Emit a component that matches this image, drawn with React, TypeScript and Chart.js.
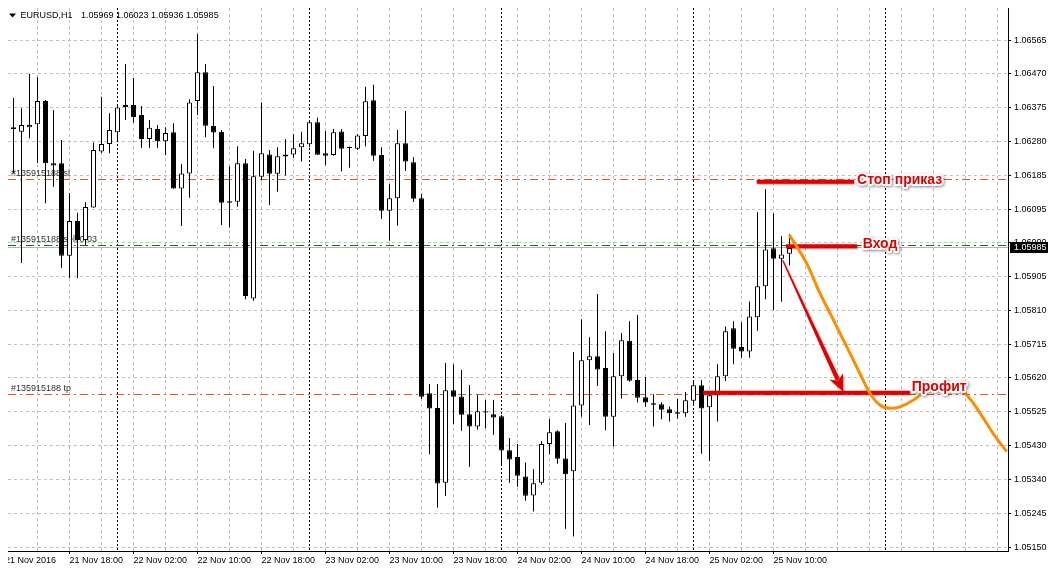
import React, { useEffect, useRef } from 'react';
import { Chart, registerables } from 'chart.js';

Chart.register(...registerables);

// ---------- data ----------
const symbolTitle = 'EURUSD,H1';
const headerPrices = '1.05969 1.06023 1.05936 1.05985';
const firstDateLabel = '21 Nov 2016';

const candleOpen = [
  1.06322, 1.06309, 1.06322, 1.06330, 1.06395, 1.06221, 1.06221, 1.05963, 1.06060, 1.06007,
  1.06098, 1.06254, 1.06275, 1.06308, 1.06378, 1.06384, 1.06356, 1.06289, 1.06317, 1.06283,
  1.06308, 1.06151, 1.06193, 1.06395, 1.06475, 1.06325, 1.06309, 1.06115, 1.06114, 1.06221,
  1.05844, 1.06184, 1.06246, 1.06192, 1.06240, 1.06246, 1.06266, 1.06274, 1.06336, 1.06249,
  1.06244, 1.06310, 1.06264, 1.06262, 1.06297, 1.06397, 1.06244, 1.06089, 1.06124, 1.06277,
  1.06224, 1.06124, 1.05580, 1.05539, 1.05330, 1.05588, 1.05571, 1.05521, 1.05487, 1.05530,
  1.05521, 1.05516, 1.05421, 1.05402, 1.05348, 1.05295, 1.05330, 1.05438, 1.05474, 1.05398,
  1.05362, 1.05546, 1.05672, 1.05683, 1.05650, 1.05514, 1.05627, 1.05726, 1.05617, 1.05569,
  1.05552, 1.05549, 1.05535, 1.05527, 1.05524, 1.05559, 1.05602, 1.05541, 1.05574, 1.05627,
  1.05761, 1.05709, 1.05696, 1.05792, 1.05878, 1.05984, 1.05955, 1.05969,
];
const candleHigh = [
  1.06403, 1.06375, 1.06470, 1.06461, 1.06398, 1.06370, 1.06286, 1.06138, 1.06083, 1.06113,
  1.06279, 1.06407, 1.06361, 1.06381, 1.06498, 1.06459, 1.06381, 1.06342, 1.06328, 1.06322,
  1.06333, 1.06219, 1.06400, 1.06582, 1.06498, 1.06437, 1.06314, 1.06212, 1.06269, 1.06233,
  1.06256, 1.06391, 1.06258, 1.06266, 1.06288, 1.06303, 1.06309, 1.06342, 1.06348, 1.06311,
  1.06317, 1.06317, 1.06268, 1.06303, 1.06435, 1.06440, 1.06266, 1.06163, 1.06314, 1.06367,
  1.06238, 1.06136, 1.05606, 1.05606, 1.05664, 1.05661, 1.05645, 1.05603, 1.05575, 1.05561,
  1.05561, 1.05519, 1.05455, 1.05438, 1.05387, 1.05368, 1.05446, 1.05508, 1.05477, 1.05497,
  1.05695, 1.05786, 1.05736, 1.05857, 1.05753, 1.05692, 1.05748, 1.05781, 1.05798, 1.05625,
  1.05577, 1.05555, 1.05543, 1.05564, 1.05583, 1.05617, 1.05617, 1.05581, 1.05661, 1.05766,
  1.05781, 1.05778, 1.05836, 1.06085, 1.06149, 1.06082, 1.06018, 1.06023,
];
const candleLow = [
  1.06194, 1.05943, 1.06291, 1.06222, 1.06110, 1.06156, 1.05929, 1.05901, 1.05901, 1.05993,
  1.06097, 1.06250, 1.06249, 1.06286, 1.06342, 1.06334, 1.06264, 1.06264, 1.06264, 1.06244,
  1.06150, 1.06046, 1.06125, 1.06356, 1.06294, 1.06263, 1.06049, 1.06042, 1.06100, 1.05842,
  1.05838, 1.06173, 1.06105, 1.06142, 1.06187, 1.06237, 1.06226, 1.06266, 1.06244, 1.06216,
  1.06242, 1.06198, 1.06209, 1.06258, 1.06269, 1.06228, 1.06066, 1.06005, 1.06047, 1.06200,
  1.06113, 1.05564, 1.05410, 1.05261, 1.05293, 1.05494, 1.05475, 1.05375, 1.05479, 1.05482,
  1.05464, 1.05378, 1.05330, 1.05319, 1.05280, 1.05250, 1.05325, 1.05410, 1.05383, 1.05202,
  1.05180, 1.05514, 1.05491, 1.05600, 1.05477, 1.05431, 1.05565, 1.05612, 1.05554, 1.05542,
  1.05487, 1.05507, 1.05501, 1.05509, 1.05514, 1.05544, 1.05411, 1.05391, 1.05501, 1.05614,
  1.05661, 1.05679, 1.05679, 1.05754, 1.05842, 1.05812, 1.05835, 1.05936,
];
const candleClose = [
  1.06317, 1.06328, 1.06328, 1.06395, 1.06221, 1.06215, 1.05963, 1.06060, 1.06007, 1.06099,
  1.06258, 1.06275, 1.06314, 1.06377, 1.06384, 1.06350, 1.06289, 1.06320, 1.06283, 1.06306,
  1.06151, 1.06193, 1.06391, 1.06475, 1.06326, 1.06307, 1.06111, 1.06111, 1.06221, 1.05851,
  1.06185, 1.06249, 1.06192, 1.06241, 1.06246, 1.06263, 1.06277, 1.06336, 1.06245, 1.06242,
  1.06308, 1.06262, 1.06265, 1.06299, 1.06394, 1.06242, 1.06089, 1.06124, 1.06277, 1.06226,
  1.06122, 1.05570, 1.05537, 1.05328, 1.05588, 1.05570, 1.05520, 1.05487, 1.05530, 1.05526,
  1.05512, 1.05420, 1.05395, 1.05350, 1.05294, 1.05329, 1.05438, 1.05471, 1.05397, 1.05354,
  1.05546, 1.05672, 1.05683, 1.05646, 1.05514, 1.05627, 1.05728, 1.05615, 1.05567, 1.05554,
  1.05548, 1.05534, 1.05524, 1.05523, 1.05560, 1.05602, 1.05537, 1.05574, 1.05627, 1.05753,
  1.05704, 1.05696, 1.05794, 1.05878, 1.05981, 1.05955, 1.05967, 1.05985,
];

const xTickLabels = [
  '21 Nov 18:00', '22 Nov 02:00', '22 Nov 10:00', '22 Nov 18:00', '23 Nov 02:00', '23 Nov 10:00',
  '23 Nov 18:00', '24 Nov 02:00', '24 Nov 10:00', '24 Nov 18:00', '25 Nov 02:00', '25 Nov 10:00',
];
const yTickValues = [
  1.06565, 1.06471, 1.06376, 1.06282, 1.06188, 1.06093, 1.06000, 1.05906,
  1.05811, 1.05717, 1.05623, 1.05528, 1.05434, 1.05340, 1.05245, 1.05150,
];
const yTickLabels = [
  '1.06565', '1.06470', '1.06375', '1.06280', '1.06185', '1.06095', '1.06000', '1.05905',
  '1.05810', '1.05715', '1.05620', '1.05525', '1.05430', '1.05340', '1.05245', '1.05150',
];
const daySeparators = [13, 37, 61, 85, 109];

const bidPrice = 1.05985;
const bidLabel = '1.05985';
const slPrice = 1.06177;
const entryOrderPrice = 1.05991;
const tpPrice = 1.05576;
const slLabel = '#135915188 sl';
const entryLabel = '#135915188 sell 0.03';
const tpLabel = '#135915188 tp';

const stopLineX = [92.9, 105.06];
const stopLinePrice = 1.0617;
const entryLineX = [96.56, 105.44];
const entryLinePrice = 1.0599;
const profitLineX = [86.2, 112.06];
const profitLinePrice = 1.05581;

const arrowX = [96.15, 103.72];
const arrowY = [1.05951, 1.05584];

const forecastX = [
  96.98, 97.9, 99.15, 100.8, 102.5, 104.15, 105.8, 107.06, 108.3, 109.56,
  110.8, 112.5, 113.7, 115.8, 117.7, 118.9, 119.98, 121.2, 122.5, 124.15,
];
const forecastY = [
  1.06021, 1.05989, 1.05942, 1.05859, 1.05784, 1.0571, 1.05635, 1.0558, 1.05547, 1.05538,
  1.05542, 1.05561, 1.0558, 1.05595, 1.05595, 1.05581, 1.05552, 1.05511, 1.05466, 1.05417,
];

const annotationTexts = ['Стоп приказ', 'Вход', 'Профит'];
const annotationX = [105.44, 106.15, 112.28];
const annotationY = [1.06173, 1.05995, 1.05598];

// ---------- layout / style constants ----------
const X_MIN = -0.6875;
const X_MAX = 124.3125;
const Y_MIN = 1.051399;
const Y_MAX = 1.066543;
const X_LABEL_FIRST = 7;
const X_LABEL_STEP = 8;
const X_GRID_FIRST = 3;
const X_GRID_STEP = 4;
const X_GRID_LAST = 123;

const RED = '#E10000';
const FONT = '"Liberation Sans", Arial, sans-serif';
const GRID = '#c0c0c0';

function xLabelAt(v: number): string {
  const k = (v - X_LABEL_FIRST) / X_LABEL_STEP;
  return Number.isInteger(k) && k >= 0 && k < xTickLabels.length ? xTickLabels[k] : '';
}

const xGridValues: number[] = [];
for (let v = X_GRID_FIRST; v <= X_GRID_LAST; v += X_GRID_STEP) xGridValues.push(v);

function haloText(ctx: CanvasRenderingContext2D, text: string, x: number, y: number) {
  ctx.save();
  ctx.font = `bold 14px ${FONT}`;
  ctx.textBaseline = 'middle';
  ctx.textAlign = 'left';
  ctx.lineJoin = 'round';
  ctx.shadowColor = 'rgba(0,0,0,0.45)';
  ctx.shadowBlur = 3;
  ctx.shadowOffsetX = 1;
  ctx.shadowOffsetY = 1;
  ctx.strokeStyle = '#fff';
  ctx.lineWidth = 4;
  ctx.strokeText(text, x, y);
  ctx.shadowColor = 'rgba(0,0,0,0)';
  ctx.fillStyle = RED;
  ctx.fillText(text, x, y);
  ctx.restore();
}

const overlayPlugin = {
  id: 'mt4overlay',
  beforeDatasetsDraw(chart: any) {
    const { ctx, chartArea: a, scales } = chart;
    const x = scales.x;
    const y = scales.y;
    ctx.save();
    ctx.beginPath();
    ctx.rect(a.left, a.top, a.right - a.left, a.bottom - a.top);
    ctx.clip();

    // day separators
    ctx.strokeStyle = '#000';
    ctx.lineWidth = 1;
    ctx.setLineDash([2, 2]);
    for (const d of daySeparators) {
      const px = Math.floor(x.getPixelForValue(d)) + 0.5;
      ctx.beginPath();
      ctx.moveTo(px, a.top);
      ctx.lineTo(px, a.bottom);
      ctx.stroke();
    }

    // bid line
    ctx.setLineDash([]);
    ctx.strokeStyle = '#b4b4b4';
    let py = Math.floor(y.getPixelForValue(bidPrice)) + 0.5;
    ctx.beginPath();
    ctx.moveTo(a.left, py);
    ctx.lineTo(a.right, py);
    ctx.stroke();

    // order lines
    const orderLines = [
      { p: slPrice, c: '#f0501e', t: slLabel },
      { p: entryOrderPrice, c: '#107010', t: entryLabel },
      { p: tpPrice, c: '#f0501e', t: tpLabel },
    ];
    for (const o of orderLines) {
      py = Math.floor(y.getPixelForValue(o.p)) + 0.5;
      ctx.strokeStyle = o.c;
      ctx.setLineDash([8, 4, 2, 4]);
      ctx.beginPath();
      ctx.moveTo(a.left, py);
      ctx.lineTo(a.right, py);
      ctx.stroke();
      ctx.setLineDash([]);
      ctx.font = `9px ${FONT}`;
      ctx.fillStyle = '#303030';
      ctx.textBaseline = 'bottom';
      ctx.textAlign = 'left';
      ctx.fillText(o.t, a.left + 3, py - 1);
    }
    ctx.restore();
  },
  beforeDatasetDraw(chart: any, args: any) {
    const ds = chart.data.datasets[args.index];
    if (ds && ds.shadow) {
      const ctx = chart.ctx;
      ctx.save();
      ctx.shadowColor = 'rgba(0,0,0,0.35)';
      ctx.shadowBlur = 2;
      ctx.shadowOffsetX = 1;
      ctx.shadowOffsetY = 1;
    }
  },
  afterDatasetDraw(chart: any, args: any) {
    const ds = chart.data.datasets[args.index];
    if (ds && ds.shadow) chart.ctx.restore();
  },
  afterDatasetsDraw(chart: any) {
    const { ctx, chartArea: a, scales } = chart;
    const x = scales.x;
    const y = scales.y;

    // arrow
    const ax0 = x.getPixelForValue(arrowX[0]);
    const ay0 = y.getPixelForValue(arrowY[0]);
    const ax1 = x.getPixelForValue(arrowX[1]);
    const ay1 = y.getPixelForValue(arrowY[1]);
    const dx = ax1 - ax0;
    const dy = ay1 - ay0;
    const len = Math.hypot(dx, dy);
    const ux = dx / len;
    const uy = dy / len;
    const nx = -uy;
    const ny = ux;
    const headLen = 17;
    const headHalf = 7.5;
    const bx = ax1 - ux * headLen;
    const by = ay1 - uy * headLen;
    ctx.save();
    ctx.shadowColor = 'rgba(0,0,0,0.35)';
    ctx.shadowBlur = 2;
    ctx.shadowOffsetX = 1;
    ctx.shadowOffsetY = 1;
    ctx.fillStyle = RED;
    ctx.beginPath();
    ctx.moveTo(ax0 + nx * 0.6, ay0 + ny * 0.6);
    ctx.lineTo(bx + ux * 4 + nx * 2.2, by + uy * 4 + ny * 2.2);
    ctx.lineTo(bx + ux * 4 - nx * 2.2, by + uy * 4 - ny * 2.2);
    ctx.lineTo(ax0 - nx * 0.6, ay0 - ny * 0.6);
    ctx.closePath();
    ctx.fill();
    ctx.beginPath();
    ctx.moveTo(ax1, ay1);
    ctx.lineTo(bx + nx * headHalf, by + ny * headHalf);
    ctx.lineTo(bx + ux * 5, by + uy * 5);
    ctx.lineTo(bx - nx * headHalf, by - ny * headHalf);
    ctx.closePath();
    ctx.fill();
    ctx.restore();

    // annotation texts
    for (let i = 0; i < annotationTexts.length; i++) {
      haloText(ctx, annotationTexts[i], x.getPixelForValue(annotationX[i]), y.getPixelForValue(annotationY[i]));
    }

    // header
    ctx.save();
    ctx.fillStyle = '#000';
    ctx.beginPath();
    ctx.moveTo(1, 5.5);
    ctx.lineTo(8, 5.5);
    ctx.lineTo(4.5, 9.5);
    ctx.closePath();
    ctx.fill();
    ctx.font = `9px ${FONT}`;
    ctx.textBaseline = 'middle';
    ctx.textAlign = 'left';
    ctx.fillText(symbolTitle, 12.5, 7.5);
    ctx.fillText(headerPrices, 73, 7.5);

    // first date label (partly cut by the window edge)
    ctx.fillText(firstDateLabel, -3, a.bottom + 10);

    // current price box
    const bp = y.getPixelForValue(bidPrice);
    ctx.fillStyle = '#000';
    ctx.fillRect(a.right + 2, Math.round(bp) - 6, 38, 11);
    ctx.fillStyle = '#fff';
    ctx.fillText(bidLabel, a.right + 6, Math.round(bp) - 0.5);
    ctx.restore();
  },
};

export default function App() {
  const ref = useRef<HTMLCanvasElement>(null);

  useEffect(() => {
    const canvas = ref.current;
    if (!canvas) return;
    const lineDs = (label: string, xs: number[], p: number, order: number) => ({
      type: 'line',
      label,
      data: xs.map((v) => ({ x: v, y: p })),
      borderColor: RED,
      borderWidth: 4,
      borderCapStyle: 'butt',
      pointRadius: 0,
      order,
      shadow: true,
    });
    const chart = new Chart(canvas, {
      type: 'bar',
      data: {
        datasets: [
          {
            type: 'line',
            label: 'forecast',
            data: forecastX.map((v, i) => ({ x: v, y: forecastY[i] })),
            borderColor: '#FF8C00',
            borderWidth: 3,
            pointRadius: 0,
            cubicInterpolationMode: 'monotone',
            order: 1,
          },
          lineDs('stop', stopLineX, stopLinePrice, 2),
          lineDs('entry', entryLineX, entryLinePrice, 2),
          lineDs('profit', profitLineX, profitLinePrice, 2),
          {
            type: 'bar',
            label: 'body',
            data: candleOpen.map((o, i) => ({ x: i, y: [o, candleClose[i]] })),
            backgroundColor: (c: any) =>
              candleClose[c.dataIndex] >= candleOpen[c.dataIndex] ? '#ffffff' : '#000000',
            borderColor: '#000000',
            borderWidth: 1,
            borderSkipped: false,
            barThickness: 5,
            minBarLength: 1,
            inflateAmount: 0,
            grouped: false,
            order: 5,
          },
          {
            type: 'bar',
            label: 'wick',
            data: candleLow.map((l, i) => ({ x: i, y: [l, candleHigh[i]] })),
            backgroundColor: '#000000',
            borderWidth: 0,
            barThickness: 1,
            inflateAmount: 0,
            grouped: false,
            order: 6,
          },
        ],
      } as any,
      options: {
        responsive: false,
        maintainAspectRatio: false,
        animation: false,
        devicePixelRatio: 1,
        events: [],
        layout: { padding: 0 },
        plugins: {
          legend: { display: false },
          tooltip: { enabled: false },
          title: { display: false },
        },
        scales: {
          x: {
            type: 'linear',
            position: 'bottom',
            min: X_MIN,
            max: X_MAX,
            offset: false,
            afterBuildTicks: (s: any) => {
              s.ticks = xGridValues.map((v) => ({ value: v }));
            },
            afterFit: (s: any) => {
              s.height = 15;
              s.paddingLeft = 0;
              s.paddingRight = 0;
            },
            ticks: {
              autoSkip: false,
              maxRotation: 0,
              minRotation: 0,
              align: 'start',
              padding: 1,
              color: '#000',
              font: { family: FONT, size: 9 },
              callback: (v: any) => xLabelAt(Number(v)),
            },
            grid: {
              color: GRID,
              lineWidth: 1,
              offset: false,
              drawTicks: true,
              tickLength: 3,
              tickColor: (c: any) => (c.tick && xLabelAt(c.tick.value) ? '#000' : 'rgba(0,0,0,0)'),
            },
            border: { display: true, color: '#000', width: 1, dash: [3, 3] },
          },
          y: {
            type: 'linear',
            position: 'right',
            min: Y_MIN,
            max: Y_MAX,
            afterBuildTicks: (s: any) => {
              s.ticks = yTickValues.map((v) => ({ value: v }));
            },
            afterFit: (s: any) => {
              s.width = 40;
              s.paddingTop = 0;
              s.paddingBottom = 0;
            },
            ticks: {
              autoSkip: false,
              padding: 3,
              color: '#000',
              font: { family: FONT, size: 9 },
              callback: (_v: any, i: number) => yTickLabels[i],
            },
            grid: {
              color: GRID,
              lineWidth: 1,
              drawTicks: true,
              tickLength: 3,
              tickColor: '#000',
            },
            border: { display: true, color: '#000', width: 1, dash: [3, 3] },
          },
        },
      } as any,
      plugins: [overlayPlugin as any],
    });
    return () => chart.destroy();
  }, []);

  return (
    <div
      style={{
        width: 1040,
        height: 558,
        background: '#fff',
        boxShadow: '0 0 7px 1px rgba(0,0,0,0.45)',
      }}
    >
      <canvas ref={ref} width={1040} height={558} style={{ display: 'block', width: 1040, height: 558 }} />
    </div>
  );
}
